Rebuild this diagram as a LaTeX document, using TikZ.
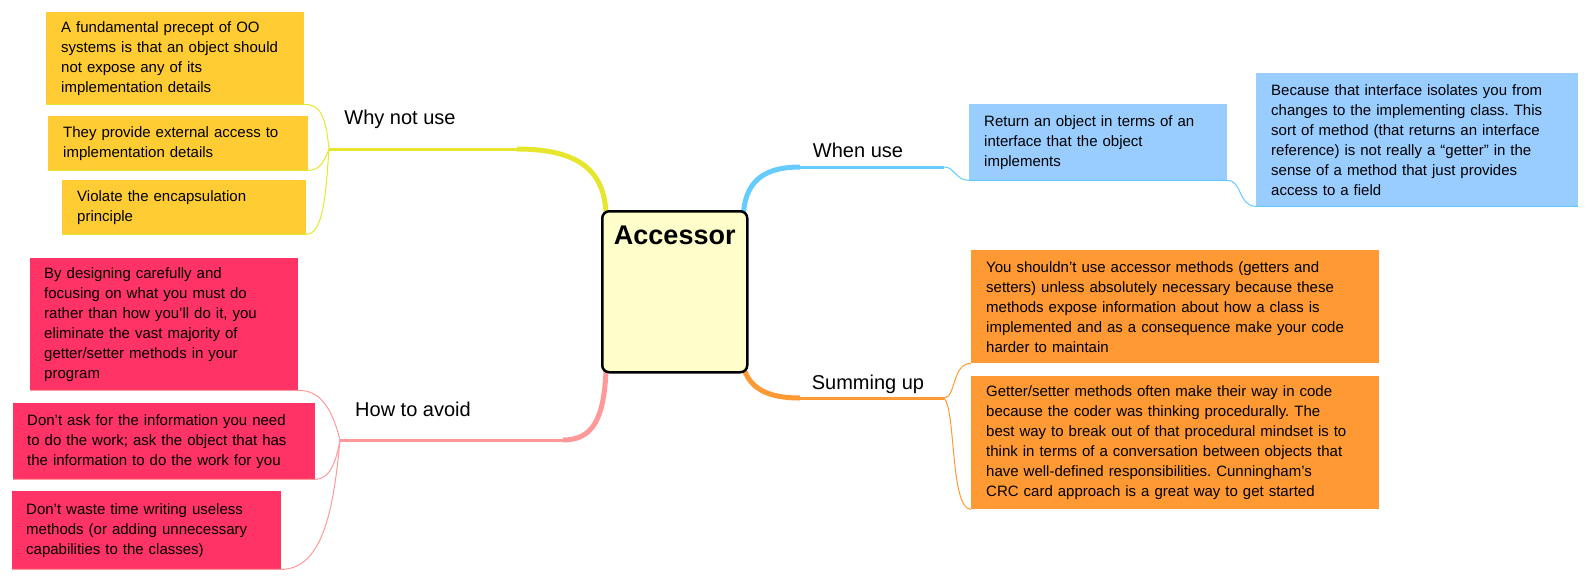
\documentclass[tikz,border=0pt]{standalone}
\usepackage{fontspec}
\setmainfont{Liberation Sans}
\usetikzlibrary{positioning,backgrounds}
\frenchspacing

\definecolor{yelbox}{HTML}{FFCC33}
\definecolor{yelline}{HTML}{E6E62E}
\definecolor{bluebox}{HTML}{99CCFF}
\definecolor{blueline}{HTML}{66CCFF}
\definecolor{orabox}{HTML}{FF9933}
\definecolor{oraline}{HTML}{FF9933}
\definecolor{pinkbox}{HTML}{FF3366}
\definecolor{pinkline}{HTML}{FF9999}
\definecolor{rootfill}{HTML}{FFFFCC}

\begin{document}
\begin{tikzpicture}[x=1pt,y=-1pt,
  leaf/.style={rectangle,fill=#1,anchor=north west,align=left,
    inner xsep=15pt,inner ysep=0pt,font=\fontsize{15}{20}\selectfont},
  tag/.style={font=\fontsize{20}{24}\selectfont},
  trunk/.style={draw=#1,line width=5pt},
  limb/.style={draw=#1,line width=3pt},
  twig/.style={draw=#1,line width=1pt}]
  \useasboundingbox (0,0) rectangle (1589,582);

  % centre
  \node[draw,line width=2.5pt,rounded corners=7pt,fill=rootfill,anchor=north west,
    minimum width=145pt,inner sep=0pt,text height=33pt,text depth=128pt,
    font=\fontsize{27}{30}\selectfont\bfseries] (root) at (601,210) {Accessor};

  % why not use
  \node[leaf=yelbox,text width=228pt,minimum height=92pt] (why1) at (46,12)
    {A fundamental precept of OO\\systems is that an object should\\not expose any of its\\implementation details};
  \node[leaf=yelbox,text width=230pt,minimum height=54pt] (why2) at (48,116)
    {They provide external access to\\implementation details};
  \node[leaf=yelbox,text width=214pt,minimum height=54pt] (why3) at (62,180)
    {Violate the encapsulation\\principle};
  \coordinate (jwhy) at (329,149);
  \node[tag] (lwhy) at (400,119) {Why not use};

  % how to avoid
  \node[leaf=pinkbox,text width=240pt,minimum height=132pt,inner xsep=14pt] (how1) at (30,258)
    {By designing carefully and\\focusing on what you must do\\rather than how you'll do it, you\\eliminate the vast majority of\\getter/setter methods in your\\program};
  \node[leaf=pinkbox,text width=274pt,minimum height=76pt,inner xsep=14pt] (how2) at (13,403)
    {Don't ask for the information you need\\to do the work; ask the object that has\\the information to do the work for you};
  \node[leaf=pinkbox,text width=241pt,minimum height=78pt,inner xsep=14pt] (how3) at (12,491)
    {Don't waste time writing useless\\methods (or adding unnecessary\\capabilities to the classes)};
  \coordinate (jhow) at (340,440);
  \node[tag] (lhow) at (413,409) {How to avoid};

  % when use
  \node[leaf=bluebox,text width=228pt,minimum height=76pt] (when1) at (969,104)
    {Return an object in terms of an\\interface that the object\\implements};
  \node[leaf=bluebox,text width=292pt,minimum height=133pt] (when2) at (1256,73)
    {Because that interface isolates you from\\changes to the implementing class. This\\sort of method (that returns an interface\\reference) is not really a ``getter'' in the\\sense of a method that just provides\\access to a field};
  \coordinate (jwhen) at (944,167);
  \node[tag] (lwhen) at (858,150) {When use};

  % summing up
  \node[leaf=orabox,text width=378pt,minimum height=113pt] (sum1) at (971,250)
    {You shouldn't use accessor methods (getters and\\setters) unless absolutely necessary because these\\methods expose information about how a class is\\implemented and as a consequence make your code\\harder to maintain};
  \node[leaf=orabox,text width=378pt,minimum height=133pt] (sum2) at (971,376)
    {Getter/setter methods often make their way in code\\because the coder was thinking procedurally. The\\best way to break out of that procedural mindset is to\\think in terms of a conversation between objects that\\have well-defined responsibilities. Cunningham's\\CRC card approach is a great way to get started};
  \coordinate (jsum) at (944,398);
  \node[tag] (lsum) at (868,384) {Summing up};

  \begin{scope}[on background layer]
    \draw[trunk=yelline] ([xshift=5pt,yshift=-3pt]root.north west) .. controls (604,168) and (575,149) .. (517,149);
    \draw[limb=yelline] (517,149) -- (jwhy);
    \draw[trunk=blueline] ([xshift=-5pt,yshift=-3pt]root.north east) .. controls (746,178) and (768,167) .. (800,167);
    \draw[limb=blueline] (800,167) -- (jwhen);
    \draw[trunk=oraline] ([xshift=-4pt,yshift=3pt]root.south east) .. controls (752,390) and (770,398) .. (800,398);
    \draw[limb=oraline] (800,398) -- (jsum);
    \draw[trunk=pinkline] ([xshift=5pt,yshift=3pt]root.south west) .. controls (604,420) and (592,440) .. (563,440);
    \draw[limb=pinkline] (563,440) -- (jhow);
  \end{scope}

  % twigs
  \draw[twig=yelline] (jwhy) .. controls (326,120) and (322,104) .. (why1.south east) -- (why1.south west);
  \draw[twig=yelline] (jwhy) .. controls (324,162) and (320,170) .. (why2.south east) -- (why2.south west);
  \draw[twig=yelline] (jwhy) .. controls (326,190) and (324,234) .. (why3.south east) -- (why3.south west);
  \draw[twig=pinkline] (jhow) .. controls (333,412) and (322,390) .. (how1.south east) -- (how1.south west);
  \draw[twig=pinkline] (jhow) .. controls (336,462) and (330,479) .. (how2.south east) -- (how2.south west);
  \draw[twig=pinkline] (jhow) .. controls (334,505) and (324,569) .. (how3.south east) -- (how3.south west);
  \draw[twig=blueline] (jwhen) .. controls (955,167) and (955,180) .. (when1.south west) -- (when1.south east)
    .. controls (1242,180) and (1238,206) .. (when2.south west) -- (when2.south east);
  \draw[twig=oraline] (jsum) .. controls (956,398) and (952,363) .. (sum1.south west);
  \draw[twig=oraline] (jsum) .. controls (956,410) and (950,509) .. (sum2.south west);
\end{tikzpicture}
\end{document}
